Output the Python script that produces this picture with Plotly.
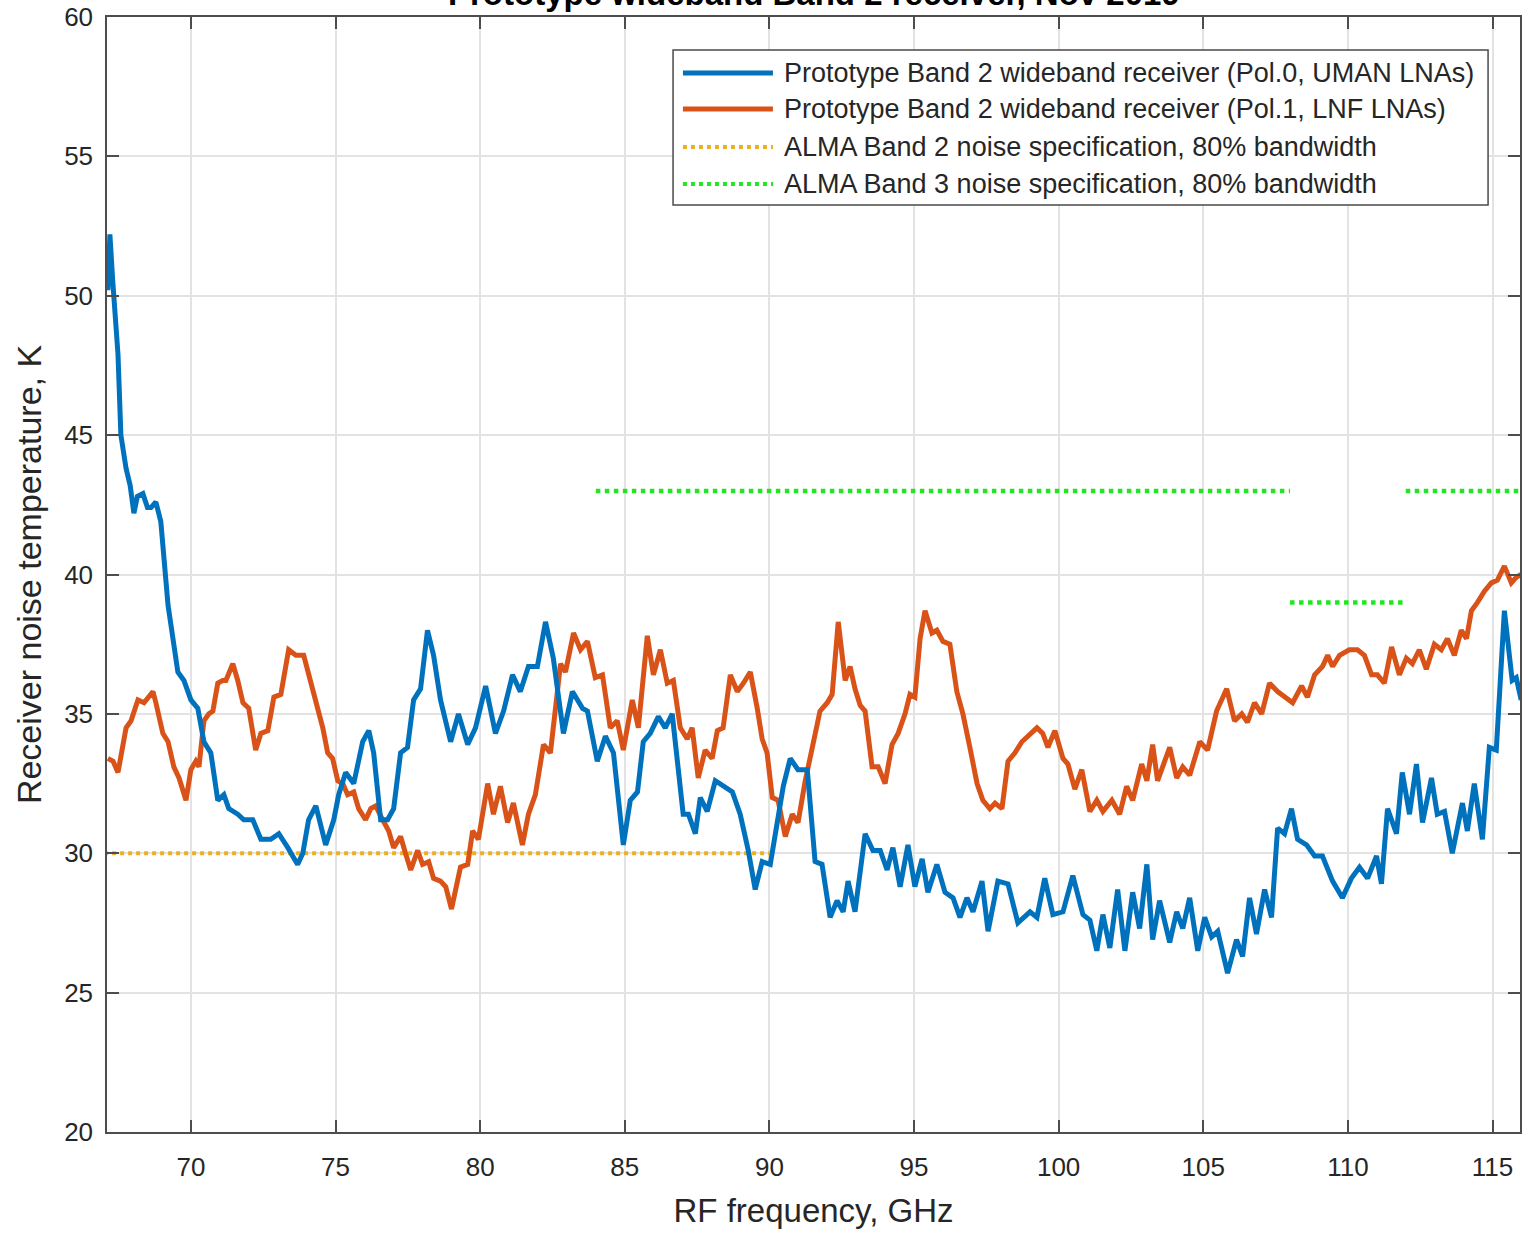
import plotly.graph_objects as go

# Pol.0 receiver (UMAN LNAs): frequency in GHz, noise temperature in K
pol0_freq = [
    67.13, 67.20, 67.30, 67.48, 67.58, 67.76, 67.90, 68.03, 68.15, 68.34, 68.50, 68.62,
    68.79, 68.96, 69.21, 69.38, 69.55, 69.76, 70.00, 70.24, 70.45, 70.69, 70.93, 71.14,
    71.31, 71.62, 71.83, 72.14, 72.42, 72.76, 73.04, 73.35, 73.69, 73.87, 74.07, 74.32,
    74.66, 74.94, 75.11, 75.35, 75.63, 75.94, 76.15, 76.32, 76.56, 76.80, 77.01, 77.25,
    77.49, 77.70, 77.94, 78.18, 78.39, 78.63, 78.98, 79.25, 79.57, 79.84, 80.19, 80.53,
    80.81, 81.12, 81.39, 81.67, 81.98, 82.26, 82.53, 82.88, 83.19, 83.54, 83.71, 84.05,
    84.33, 84.61, 84.95, 85.19, 85.44, 85.64, 85.88, 86.16, 86.40, 86.64, 86.92, 87.02,
    87.20, 87.44, 87.61, 87.85, 88.13, 88.40, 88.72, 88.99, 89.27, 89.51, 89.75, 90.03,
    90.27, 90.48, 90.72, 90.99, 91.31, 91.58, 91.82, 92.10, 92.34, 92.55, 92.72, 92.96,
    93.31, 93.58, 93.83, 94.07, 94.27, 94.52, 94.79, 95.03, 95.28, 95.48, 95.79, 96.07,
    96.35, 96.59, 96.83, 97.04, 97.35, 97.56, 97.90, 98.25, 98.59, 99.01, 99.25, 99.52,
    99.80, 100.15, 100.49, 100.84, 101.08, 101.32, 101.53, 101.77, 102.04, 102.29, 102.56, 102.80,
    103.05, 103.25, 103.49, 103.84, 104.08, 104.29, 104.53, 104.81, 105.05, 105.29, 105.50, 105.84,
    106.15, 106.36, 106.60, 106.84, 107.12, 107.36, 107.57, 107.81, 108.05, 108.26, 108.57, 108.85,
    109.12, 109.47, 109.81, 110.12, 110.40, 110.68, 110.99, 111.16, 111.37, 111.68, 111.88, 112.13,
    112.37, 112.58, 112.89, 113.09, 113.34, 113.61, 113.96, 114.13, 114.37, 114.65, 114.89, 115.13,
    115.41, 115.68, 115.82, 115.99,
]
pol0_temp = [
    50.2, 52.2, 50.5, 47.9, 45.0, 43.8, 43.2, 42.2, 42.8, 42.9, 42.4, 42.4,
    42.6, 41.9, 38.9, 37.6, 36.5, 36.2, 35.5, 35.2, 34.0, 33.6, 31.9, 32.1,
    31.6, 31.4, 31.2, 31.2, 30.5, 30.5, 30.7, 30.2, 29.6, 30.0, 31.2, 31.7,
    30.3, 31.2, 32.1, 32.9, 32.5, 34.0, 34.4, 33.6, 31.2, 31.2, 31.6, 33.6,
    33.8, 35.5, 35.9, 38.0, 37.1, 35.5, 34.0, 35.0, 33.9, 34.5, 36.0, 34.3,
    35.1, 36.4, 35.8, 36.7, 36.7, 38.3, 37.0, 34.3, 35.8, 35.2, 35.1, 33.3,
    34.2, 33.6, 30.3, 31.9, 32.2, 34.0, 34.3, 34.9, 34.5, 35.0, 32.6, 31.4,
    31.4, 30.7, 32.0, 31.5, 32.6, 32.4, 32.2, 31.4, 30.1, 28.7, 29.7, 29.6,
    31.2, 32.4, 33.4, 33.0, 33.0, 29.7, 29.6, 27.7, 28.3, 27.9, 29.0, 27.9,
    30.7, 30.1, 30.1, 29.4, 30.2, 28.8, 30.3, 28.8, 29.8, 28.6, 29.6, 28.6,
    28.4, 27.7, 28.4, 27.9, 29.0, 27.2, 29.0, 28.9, 27.5, 27.9, 27.7, 29.1,
    27.8, 27.9, 29.2, 27.8, 27.6, 26.5, 27.8, 26.6, 28.7, 26.5, 28.6, 27.3,
    29.6, 26.9, 28.3, 26.8, 27.9, 27.3, 28.4, 26.5, 27.7, 27.0, 27.2, 25.7,
    26.9, 26.3, 28.4, 27.1, 28.7, 27.7, 30.9, 30.7, 31.6, 30.5, 30.3, 29.9,
    29.9, 29.0, 28.4, 29.1, 29.5, 29.1, 29.9, 28.9, 31.6, 30.7, 32.9, 31.4,
    33.2, 31.1, 32.7, 31.4, 31.5, 30.0, 31.8, 30.8, 32.5, 30.5, 33.8, 33.7,
    38.7, 36.2, 36.3, 35.5,
]

# Pol.1 receiver (LNF LNAs)
pol1_freq = [
    67.13, 67.31, 67.48, 67.76, 67.93, 68.17, 68.38, 68.69, 68.79, 69.03, 69.21, 69.41,
    69.59, 69.83, 70.00, 70.17, 70.28, 70.45, 70.62, 70.76, 70.93, 71.10, 71.21, 71.45,
    71.62, 71.80, 72.00, 72.24, 72.42, 72.66, 72.87, 73.11, 73.38, 73.63, 73.90, 74.14,
    74.39, 74.56, 74.73, 74.90, 75.08, 75.25, 75.42, 75.63, 75.80, 76.04, 76.22, 76.39,
    76.63, 76.84, 77.01, 77.25, 77.42, 77.60, 77.84, 78.01, 78.22, 78.39, 78.63, 78.81,
    79.01, 79.15, 79.32, 79.57, 79.74, 79.94, 80.26, 80.46, 80.70, 80.95, 81.15, 81.46,
    81.67, 81.91, 82.19, 82.43, 82.60, 82.78, 82.95, 83.23, 83.47, 83.71, 83.98, 84.23,
    84.50, 84.74, 84.95, 85.26, 85.47, 85.78, 85.99, 86.23, 86.47, 86.68, 86.92, 87.16,
    87.33, 87.54, 87.78, 88.02, 88.20, 88.40, 88.65, 88.89, 89.10, 89.34, 89.58, 89.75,
    89.92, 90.10, 90.30, 90.55, 90.79, 90.99, 91.24, 91.51, 91.75, 92.00, 92.17, 92.38,
    92.62, 92.79, 92.96, 93.14, 93.31, 93.55, 93.76, 94.00, 94.24, 94.45, 94.69, 94.86,
    95.03, 95.21, 95.38, 95.62, 95.79, 96.00, 96.24, 96.48, 96.69, 96.93, 97.18, 97.38,
    97.62, 97.80, 98.04, 98.25, 98.49, 98.73, 99.01, 99.25, 99.45, 99.63, 99.87, 100.15,
    100.32, 100.56, 100.80, 101.08, 101.32, 101.53, 101.84, 102.11, 102.35, 102.56, 102.87, 103.05,
    103.25, 103.42, 103.84, 104.08, 104.29, 104.53, 104.88, 105.15, 105.46, 105.81, 106.08, 106.33,
    106.53, 106.77, 107.02, 107.29, 107.57, 107.81, 108.09, 108.40, 108.60, 108.85, 109.12, 109.30,
    109.47, 109.71, 110.05, 110.33, 110.57, 110.82, 111.02, 111.26, 111.51, 111.78, 112.02, 112.23,
    112.47, 112.71, 112.99, 113.23, 113.44, 113.68, 113.92, 114.10, 114.27, 114.48, 114.72, 114.96,
    115.17, 115.41, 115.65, 115.82, 115.99,
]
pol1_temp = [
    33.4, 33.3, 32.9, 34.5, 34.75, 35.5, 35.4, 35.8, 35.4, 34.3, 34.0, 33.1,
    32.7, 31.9, 33.0, 33.3, 33.1, 34.75, 35.0, 35.1, 36.1, 36.2, 36.2, 36.8,
    36.2, 35.4, 35.2, 33.7, 34.3, 34.4, 35.6, 35.7, 37.3, 37.1, 37.1, 36.2,
    35.2, 34.5, 33.6, 33.4, 32.6, 32.5, 32.1, 32.2, 31.6, 31.2, 31.6, 31.7,
    31.2, 30.8, 30.2, 30.6, 30.0, 29.4, 30.1, 29.6, 29.7, 29.1, 29.0, 28.8,
    28.0, 28.6, 29.5, 29.6, 30.8, 30.5, 32.5, 31.4, 32.4, 31.1, 31.8, 30.3,
    31.4, 32.1, 33.9, 33.6, 35.0, 36.8, 36.5, 37.9, 37.3, 37.6, 36.3, 36.4,
    34.5, 34.75, 33.7, 35.5, 34.5, 37.8, 36.4, 37.3, 36.1, 36.2, 34.5, 34.1,
    34.5, 32.7, 33.7, 33.4, 34.4, 34.5, 36.4, 35.8, 36.1, 36.5, 35.2, 34.1,
    33.6, 32.0, 31.9, 30.6, 31.4, 31.1, 32.6, 34.0, 35.1, 35.4, 35.7, 38.3,
    36.2, 36.7, 35.9, 35.3, 35.1, 33.1, 33.1, 32.5, 33.9, 34.3, 35.0, 35.7,
    35.6, 37.7, 38.7, 37.9, 38.0, 37.6, 37.5, 35.8, 35.0, 33.8, 32.5, 31.9,
    31.6, 31.8, 31.6, 33.3, 33.6, 34.0, 34.3, 34.5, 34.3, 33.8, 34.4, 33.4,
    33.2, 32.3, 33.0, 31.5, 31.9, 31.5, 31.9, 31.4, 32.4, 31.9, 33.2, 32.6,
    33.9, 32.6, 33.8, 32.7, 33.1, 32.8, 34.0, 33.7, 35.1, 35.9, 34.75, 35.0,
    34.7, 35.4, 35.0, 36.1, 35.8, 35.6, 35.4, 36.0, 35.6, 36.4, 36.7, 37.1,
    36.7, 37.1, 37.3, 37.3, 37.1, 36.4, 36.4, 36.1, 37.4, 36.4, 37.0, 36.8,
    37.3, 36.6, 37.5, 37.3, 37.7, 37.1, 38.0, 37.7, 38.7, 39.0, 39.4, 39.7,
    39.8, 40.3, 39.7, 39.9, 40.0,
]

# ALMA noise specifications (80% bandwidth)
band2_spec_freq = [67.0, 90.0]
band2_spec_temp = [30.0, 30.0]
band3_spec_freq = [84.0, 108.0, None, 108.0, 112.0, None, 112.0, 116.0]
band3_spec_temp = [43.0, 43.0, None, 39.0, 39.0, None, 43.0, 43.0]

x_ticks = [70, 75, 80, 85, 90, 95, 100, 105, 110, 115]
y_ticks = [20, 25, 30, 35, 40, 45, 50, 55, 60]

legend_labels = [
    "Prototype Band 2 wideband receiver (Pol.0, UMAN LNAs)",
    "Prototype Band 2 wideband receiver (Pol.1, LNF LNAs)",
    "ALMA Band 2 noise specification, 80% bandwidth",
    "ALMA Band 3 noise specification, 80% bandwidth",
]

BLUE = "#0072BD"
ORANGE = "#D95319"
YELLOW = "#EDB120"
GREEN = "#22E622"
TEXT = "#262626"
FONT = "Liberation Sans, Arial, sans-serif"
CURVE_W = 5

fig = go.Figure()
fig.add_trace(go.Scatter(x=band2_spec_freq, y=band2_spec_temp, mode="lines",
                         line=dict(color=YELLOW, width=4, dash="dot"), showlegend=False))
fig.add_trace(go.Scatter(x=band3_spec_freq, y=band3_spec_temp, mode="lines",
                         line=dict(color=GREEN, width=4.5, dash="dot"), showlegend=False))
fig.add_trace(go.Scatter(x=pol1_freq, y=pol1_temp, mode="lines",
                         line=dict(color=ORANGE, width=CURVE_W), showlegend=False))
fig.add_trace(go.Scatter(x=pol0_freq, y=pol0_temp, mode="lines",
                         line=dict(color=BLUE, width=CURVE_W), showlegend=False))

# Legend drawn as a boxed key in the upper right of the axes
box_x0, box_x1, box_y0, box_y1 = 0.4006, 0.9774, 0.8314, 0.9704
row_y = [0.9498, 0.9175, 0.8834, 0.8502]
key_x0, key_x1, key_text_x = 0.4076, 0.4713, 0.4777
key_styles = [
    dict(color=BLUE, width=CURVE_W),
    dict(color=ORANGE, width=CURVE_W),
    dict(color=YELLOW, width=4, dash="dot"),
    dict(color=GREEN, width=4, dash="dot"),
]
shapes = [dict(type="rect", xref="paper", yref="paper", x0=box_x0, x1=box_x1,
               y0=box_y0, y1=box_y1, line=dict(color="#4a4a4a", width=1.5),
               fillcolor="white", layer="above")]
annotations = []
for label, yy, style in zip(legend_labels, row_y, key_styles):
    shapes.append(dict(type="line", xref="paper", yref="paper", x0=key_x0, x1=key_x1,
                       y0=yy, y1=yy, line=style, layer="above"))
    annotations.append(dict(text=label, xref="paper", yref="paper", x=key_text_x, y=yy,
                            xanchor="left", yanchor="middle", showarrow=False,
                            font=dict(family=FONT, size=27, color=TEXT)))

annotations.append(dict(text="<b>Prototype wideband Band 2 receiver, Nov 2019</b>",
                        xref="paper", yref="paper", x=0.5, y=1, xanchor="center",
                        yanchor="bottom", yshift=3, showarrow=False,
                        font=dict(family=FONT, size=33, color="#000000")))

axis_common = dict(
    showline=True, linecolor="#4d4d4d", linewidth=1.5, mirror="ticks",
    ticks="inside", ticklen=12, tickwidth=1.5, tickcolor="#4d4d4d",
    showgrid=True, gridcolor="#e3e3e3", gridwidth=1.5, zeroline=False,
    tickfont=dict(family=FONT, size=26, color=TEXT), automargin=False,
)

fig.update_layout(
    width=1529, height=1235,
    margin=dict(l=107, r=9, t=17, b=103),
    paper_bgcolor="white", plot_bgcolor="white",
    shapes=shapes, annotations=annotations,
    xaxis=dict(range=[67.1, 115.95], tickvals=x_ticks, ticklabelstandoff=11,
               title=dict(text="RF frequency, GHz", standoff=18,
                          font=dict(family=FONT, size=33, color=TEXT)),
               **axis_common),
    yaxis=dict(range=[20, 60], tickvals=y_ticks, ticklabelstandoff=7,
               title=dict(text="Receiver noise temperature, K", standoff=12,
                          font=dict(family=FONT, size=34, color=TEXT)),
               **axis_common),
)

fig.write_html("out.html")
